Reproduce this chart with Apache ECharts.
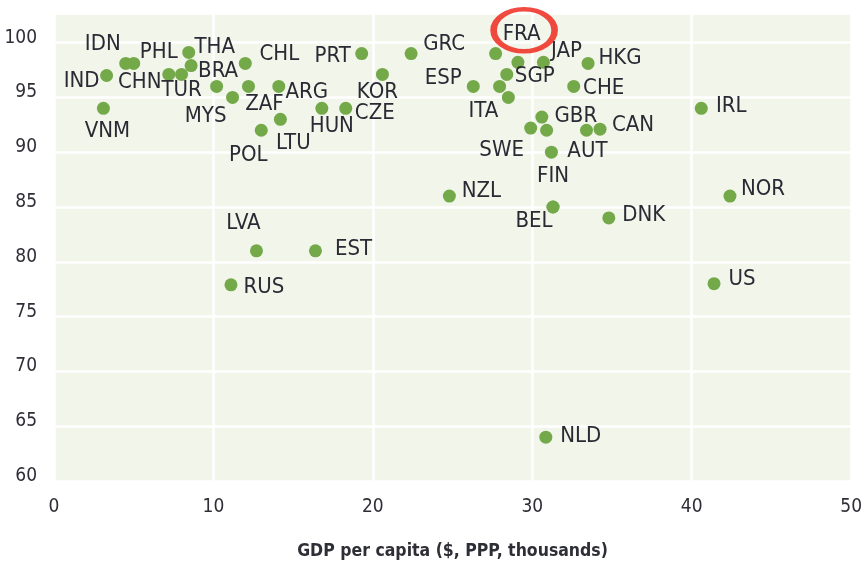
<!DOCTYPE html>
<html>
<head>
<meta charset="utf-8">
<script src="https://cdn.jsdelivr.net/npm/echarts@6/dist/echarts.min.js"></script>
<style>
html,body{margin:0;padding:0;background:#fff;}
#chart{width:865px;height:568px;}
</style>
</head>
<body>
<div id="chart"></div>
<script>
// ---- data ----
const countries = ['IND','VNM','IDN','CHN','PHL','TUR','THA','BRA','MYS','','CHL','ZAF','POL','ARG','LTU','HUN','CZE','PRT','KOR',
  'GRC','FRA','','JAP','HKG','SGP','ESP','','ITA','CHE','IRL','GBR','SWE','','','CAN','AUT',
  'NZL','FIN','BEL','LVA','EST','RUS','DNK','NOR','US','NLD'];
const gdpPerCapita = [3.3,3.1,4.5,5.0,7.2,8.0,8.45,8.6,10.2,11.2,12.0,12.2,13.0,14.1,14.2,16.8,18.3,19.3,20.6,
  22.4,27.7,29.1,30.7,33.5,28.4,26.3,27.95,28.5,32.6,40.6,30.6,29.9,30.9,33.4,34.25,31.2,
  24.8,31.3,31.3,12.7,16.4,11.1,34.8,42.4,41.4,30.85];
const satisfaction = [97.0,94.0,98.1,98.1,97.1,97.1,99.1,97.9,96.0,95.0,98.1,96.0,92.0,96.0,93.0,94.0,94.0,99.0,97.1,
  99.0,99.0,98.2,98.2,98.1,97.1,96.0,96.0,95.0,96.0,94.0,93.2,92.2,92.0,92.0,92.1,90.0,
  86.0,85.0,85.0,81.0,81.0,77.9,84.0,86.0,78.0,64.0];
const yTicks = [60,65,70,75,80,85,90,95,100];
const xTicks = [0,10,20,30,40,50];
const highlighted = 'FRA';

// ---- label placement (style only) ----
const labelOffsets = {
  IND:[-25,6], VNM:[4,23], IDN:[-23,-19], CHN:[6,19], PHL:[-10,-22], TUR:[0,16], THA:[26,-5], BRA:[27,6],
  MYS:[-11,30], CHL:[34,-9], ZAF:[16,18], POL:[-13,25], ARG:[28,6], LTU:[13,24], HUN:[10,18], CZE:[29,5],
  PRT:[-29,3], KOR:[-5,18], GRC:[33,-9], FRA:[26,-19], JAP:[23,-11], HKG:[32,-5], SGP:[28,2], ESP:[-30,-8],
  ITA:[-25,14], CHE:[30,2], IRL:[30,-2], GBR:[34,-1], SWE:[-29,22], CAN:[33,-4], AUT:[36,-1], NZL:[32,-5],
  FIN:[0,-31], BEL:[-19,14], LVA:[-13,-28], EST:[38,-2], RUS:[33,2], DNK:[35,-3], NOR:[33,-7], US:[28,-4], NLD:[35,-1]
};

const FONT = '"DejaVu Sans Condensed","DejaVu Sans",sans-serif';

const points = countries.map((c, i) => ({
  name: c,
  value: [gdpPerCapita[i], satisfaction[i]],
  label: { show: c !== '', offset: labelOffsets[c] || [0,0] }
}));
const hi = countries.indexOf(highlighted);

const chart = echarts.init(document.getElementById('chart'), null, {renderer:'canvas'});
chart.setOption({
  animation: false,
  grid: { left: 54, right: 13, top: 13, bottom: 87, show: true, backgroundColor: '#f2f5ea', borderWidth: 0 },
  xAxis: {
    type: 'value', min: xTicks[0], max: xTicks[xTicks.length-1], interval: 10,
    name: 'GDP per capita ($, PPP, thousands)', nameLocation: 'middle', nameGap: 61,
    nameTextStyle: { fontFamily: FONT, fontSize: 17.5, fontWeight: 'bold', color: '#2e2e36' },
    axisLine: { show: false }, axisTick: { show: false },
    axisLabel: { fontFamily: FONT, fontSize: 19, color: '#2e2e36', margin: 17 },
    splitLine: { show: true, lineStyle: { color: '#ffffff', width: 2.5 } }
  },
  yAxis: {
    type: 'value', min: yTicks[0], max: 102.7, interval: 5,
    axisLine: { show: false }, axisTick: { show: false },
    axisLabel: { fontFamily: FONT, fontSize: 19, color: '#2e2e36', margin: 17, verticalAlign: 'bottom', lineHeight: 10,
      formatter: v => (yTicks.indexOf(v) >= 0 ? String(v) : '') },
    splitLine: { show: true, lineStyle: { color: '#ffffff', width: 2.5 } }
  },
  series: [
    {
      type: 'scatter', symbol: 'circle', symbolSize: 13,
      itemStyle: { color: '#74a94a', opacity: 1 },
      label: { position: 'inside', formatter: '{b}', fontFamily: FONT, fontSize: 22, color: '#2a2a34' },
      emphasis: { disabled: true },
      data: points
    },
    {
      type: 'scatter', silent: true, z: 3,
      symbol: 'path://M0,50A50,50,0,1,1,100,50A50,50,0,1,1,0,50Z',
      symbolSize: [61, 42], symbolOffset: [28.5, -23.3],
      itemStyle: { color: 'rgba(0,0,0,0)', borderColor: '#ee1d10', borderWidth: 5.5 },
      emphasis: { disabled: true },
      data: [[gdpPerCapita[hi], satisfaction[hi]]]
    }
  ]
});
</script>
</body>
</html>
